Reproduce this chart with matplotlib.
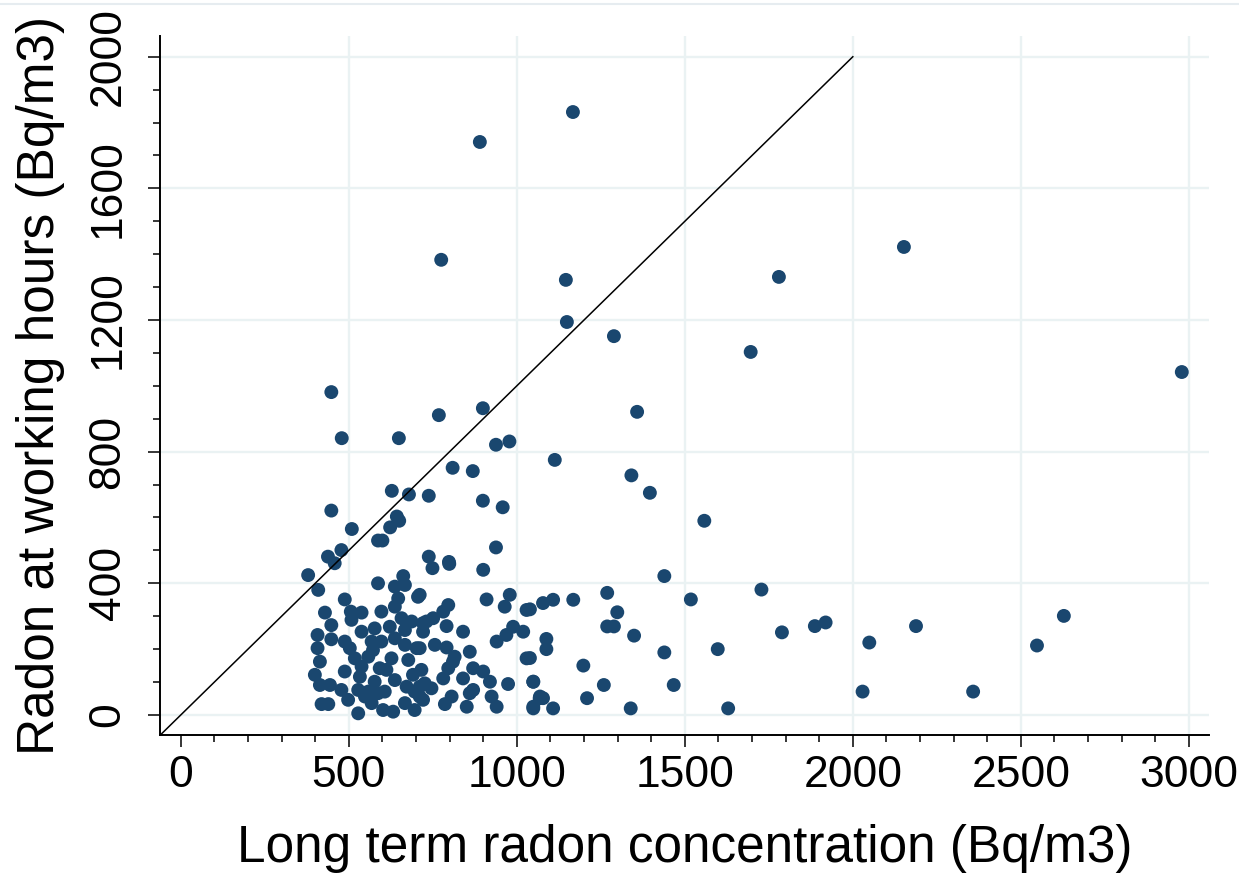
import numpy as np
import matplotlib.pyplot as plt
from matplotlib.lines import Line2D
from matplotlib.ticker import MultipleLocator

plt.rcParams['font.family'] = ['Liberation Sans', 'DejaVu Sans']

# long term concentration (x) and working hours concentration (y), Bq/m3
# scattered points above the cluster
x_upper = [1167, 890, 2152, 775, 1780, 1146, 1149, 1289, 1696, 2979,
           448, 479, 649, 768, 899, 938, 978, 809, 869, 628, 679, 738,
           899, 958, 448, 643, 650, 623, 509, 587, 600, 938, 438, 478,
           738, 798, 1113, 379, 409, 458]
y_upper = [1832, 1741, 1422, 1383, 1331, 1322, 1194, 1151, 1103, 1042,
           981, 841, 841, 911, 932, 821, 831, 751, 741, 681, 670, 666,
           651, 631, 621, 603, 590, 570, 565, 530, 530, 509, 481, 501,
           481, 465, 775, 425, 380, 461]

# right hand part (x > ~1000)
x_right = [1358, 1341, 1396, 1558, 1439, 1269, 1518, 1728, 1789, 1598,
           1078, 1108, 1168, 1299, 1269, 1289, 1349, 1088, 1088, 1439,
           1198, 1049, 1259, 1467, 1068, 1078, 1209, 1049, 1108, 1339,
           1629, 1039, 1039, 1887, 1919, 2049, 2029, 2188, 2358, 2548, 2628]
y_right = [921, 728, 675, 590, 422, 371, 351, 381, 251, 200,
           340, 350, 350, 312, 269, 269, 241, 231, 200, 190,
           150, 101, 91, 91, 51, 51, 51, 20, 20, 20,
           20, 321, 173, 270, 281, 220, 71, 270, 71, 211, 301]

# dense cluster, left half
x_dense_a = [587, 662, 637, 667, 706, 647, 488, 429, 506, 538, 597, 637,
             508, 448, 657, 687, 721, 538, 577, 622, 667, 721, 407, 448,
             488, 568, 597, 637, 667, 407, 503, 572, 702, 518, 558, 627,
             677, 414, 399, 488, 538, 592, 612, 691, 716, 414, 444, 533,
             577, 637, 478, 528, 558, 607, 672, 696, 419, 439, 498, 528,
             568, 602, 632, 667, 696, 721, 548, 587]
y_dense_a = [400, 422, 390, 395, 359, 354, 351, 311, 314, 311, 314, 329,
             289, 273, 294, 284, 279, 253, 263, 268, 258, 253, 243, 230,
             223, 223, 223, 233, 213, 203, 203, 197, 203, 172, 177, 172,
             167, 162, 122, 132, 147, 142, 137, 122, 137, 91, 91, 116,
             101, 106, 76, 76, 71, 71, 86, 71, 33, 33, 46, 5,
             36, 15, 10, 36, 15, 46, 56, 66]

# dense cluster, right half
x_dense_b = [749, 799, 900, 711, 910, 979, 964, 1029, 796, 781, 751, 731,
             791, 840, 989, 1019, 969, 940, 756, 711, 791, 860, 815, 810,
             1029, 870, 900, 796, 840, 781, 920, 974, 1049, 726, 746, 711,
             870, 860, 806, 786, 925, 940, 851, 1049, 1069, 711]
y_dense_b = [446, 459, 441, 365, 351, 365, 329, 319, 334, 314, 294, 284,
             270, 253, 268, 253, 243, 223, 213, 203, 205, 192, 177, 162,
             172, 142, 132, 142, 111, 111, 101, 94, 101, 96, 81, 56,
             76, 66, 56, 33, 56, 25, 25, 25, 56, 86]

x_all = np.array(x_upper + x_right + x_dense_a + x_dense_b)
y_all = np.array(y_upper + y_right + y_dense_a + y_dense_b)

fig = plt.figure(figsize=(12.39, 8.74), dpi=100)
ax = fig.add_axes([0.1291, 0.1590, 0.8467, 0.7998])

grid_col = '#eaf2f3'
for gx in [500, 1000, 1500, 2000, 2500, 3000]:
    ax.axvline(gx, color=grid_col, lw=1.7, zorder=0)
for gy in [0, 400, 800, 1200, 1600, 2000]:
    ax.axhline(gy, color=grid_col, lw=1.7, zorder=0)

ax.scatter(x_all, y_all, s=100, color='#1a476f', edgecolors='none', zorder=3)
ax.plot([-62, 2000], [-62, 2000], color='black', lw=1.1, zorder=4)

ax.set_xlim(-62, 3060)
ax.set_ylim(-61, 2063)
ax.set_xticks([0, 500, 1000, 1500, 2000, 2500, 3000])
ax.set_yticks([0, 400, 800, 1200, 1600, 2000])
ax.xaxis.set_minor_locator(MultipleLocator(100))
ax.yaxis.set_minor_locator(MultipleLocator(100))
ax.tick_params(axis='both', which='major', length=8.6, width=1.1, labelsize=32, color='black')
ax.tick_params(axis='both', which='minor', length=5, width=1.1, color='black')
ax.tick_params(axis='x', which='major', pad=6)
ax.tick_params(axis='y', which='major', pad=14)
for lab in ax.get_yticklabels():
    lab.set_rotation(90)
    lab.set_va('center')

for side in ['top', 'right']:
    ax.spines[side].set_visible(False)
for side in ['left', 'bottom']:
    ax.spines[side].set_linewidth(1.4)

ax.set_xlabel('Long term radon concentration (Bq/m3)', fontsize=37, labelpad=20)
ax.set_ylabel('Radon at working hours (Bq/m3)', fontsize=37, labelpad=16)

# faint frame line along the top edge
fig.add_artist(Line2D([0, 1], [1 - 4 / 874, 1 - 4 / 874], color='#e6ecf0', lw=1.5,
                      transform=fig.transFigure))

fig.savefig('out.png', dpi=100)
